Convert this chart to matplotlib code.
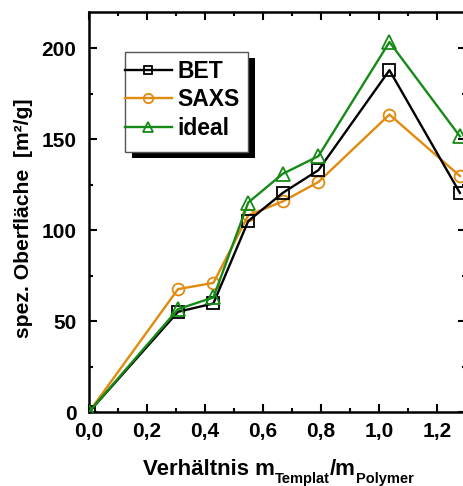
import matplotlib
matplotlib.use("Agg")
import matplotlib.pyplot as plt
from matplotlib.ticker import MultipleLocator, FuncFormatter
from matplotlib.patches import Rectangle

plt.rcParams['font.family'] = ['Liberation Sans', 'DejaVu Sans']
plt.rcParams['font.weight'] = 'bold'

ratio = [0.0, 0.307, 0.429, 0.549, 0.668, 0.791, 1.036, 1.279]
bet = [0, 55.1, 59.7, 105.0, 120.5, 133.0, 188.0, 120.5]
saxs = [0, 67.6, 71.0, 108.2, 115.8, 126.5, 163.6, 129.8]
ideal = [0, 56.6, 63.0, 115.2, 131.0, 140.7, 203.5, 151.6]
series_labels = ['BET', 'SAXS', 'ideal']

W, H = 464, 486
fig = plt.figure(figsize=(W / 100, H / 100), dpi=100)
x0, x1 = 89, 466
y0, y1 = 412, 12
ax = fig.add_axes([x0 / W, 1 - y0 / H, (x1 - x0) / W, (y0 - y1) / H])


def px2ax(px, py):
    return (px - x0) / (x1 - x0), (y0 - py) / (y0 - y1)


orange = '#E08A0E'
green = '#168A16'
ax.plot(ratio, bet, color='black', lw=1.7, marker='s', ms=8, mfc='none', mew=1.3, label=series_labels[0], zorder=3)
ax.plot(ratio, saxs, color=orange, lw=1.7, marker='o', ms=8.5, mfc='none', mew=1.3, label=series_labels[1], zorder=2)
ax.plot(ratio, ideal, color=green, lw=1.7, marker='^', ms=9.5, mfc='none', mew=1.3, label=series_labels[2], zorder=4)

ax.set_xlim(0, 1.3)
ax.set_ylim(0, 220)
ax.xaxis.set_major_locator(MultipleLocator(0.2))
ax.xaxis.set_minor_locator(MultipleLocator(0.1))
ax.yaxis.set_major_locator(MultipleLocator(50))
ax.yaxis.set_minor_locator(MultipleLocator(25))
ax.xaxis.set_major_formatter(FuncFormatter(lambda v, p: f"{v:.1f}".replace('.', ',')))
ax.yaxis.set_major_formatter(FuncFormatter(lambda v, p: f"{v:.0f}"))
ax.tick_params(which='both', direction='in', top=True, right=True, width=1.5)
ax.tick_params(which='major', length=6, labelsize=15)
ax.tick_params(axis='x', which='major', pad=7)
ax.tick_params(axis='y', which='major', pad=9)
ax.tick_params(which='minor', length=3)
for s in ax.spines.values():
    s.set_linewidth(1.8)
for lab in ax.get_xticklabels() + ax.get_yticklabels():
    lab.set_fontweight('bold')

ax.set_ylabel('spez. Oberfläche  [m²/g]', fontsize=15.2, fontweight='bold')
lx, ly = px2ax(33, 218)
ax.yaxis.set_label_coords(lx, ly)

# legend (frameless) + manual frame and shadow
leg = ax.legend(loc='upper left', bbox_to_anchor=px2ax(125, 60),
                borderaxespad=0, borderpad=0, frameon=False, markerscale=0.8,
                prop={'size': 16.5, 'weight': 'bold'}, handlelength=2.05, handletextpad=0.25,
                labelspacing=0.24)
leg.set_zorder(11)
fx0, fy0 = px2ax(125, 152)
fx1, fy1 = px2ax(248, 52)
ax.add_patch(Rectangle((fx0, fy0), fx1 - fx0, fy1 - fy0, transform=ax.transAxes,
                       facecolor='white', edgecolor='#555555', lw=1.0, zorder=10, clip_on=False))
sx0, sy0 = px2ax(132, 158)
sx1, sy1 = px2ax(255, 58)
ax.add_patch(Rectangle((sx0, sy0), sx1 - sx0, sy1 - sy0, transform=ax.transAxes,
                       facecolor='black', edgecolor='none', zorder=9, clip_on=False))

# x label built from pieces (main text + subscripts)
pieces = [('Verhältnis m', 16, 0), ('Templat', 10.5, -8), ('/m', 16, 0), ('Polymer', 10.5, -8)]
renderer = fig.canvas.get_renderer()
texts = []
for s, fs, dy in pieces:
    t = fig.text(0, 0, s, fontsize=fs, fontweight='bold', va='baseline', ha='left')
    texts.append((t, dy))
widths = [t.get_window_extent(renderer).width for t, _ in texts]
total = sum(widths)
xc = 278.5
base = 475
cur = xc - total / 2
for (t, dy), w in zip(texts, widths):
    t.set_position((cur / W, 1 - (base - dy) / H))
    cur += w

fig.savefig('out.png', dpi=100)
